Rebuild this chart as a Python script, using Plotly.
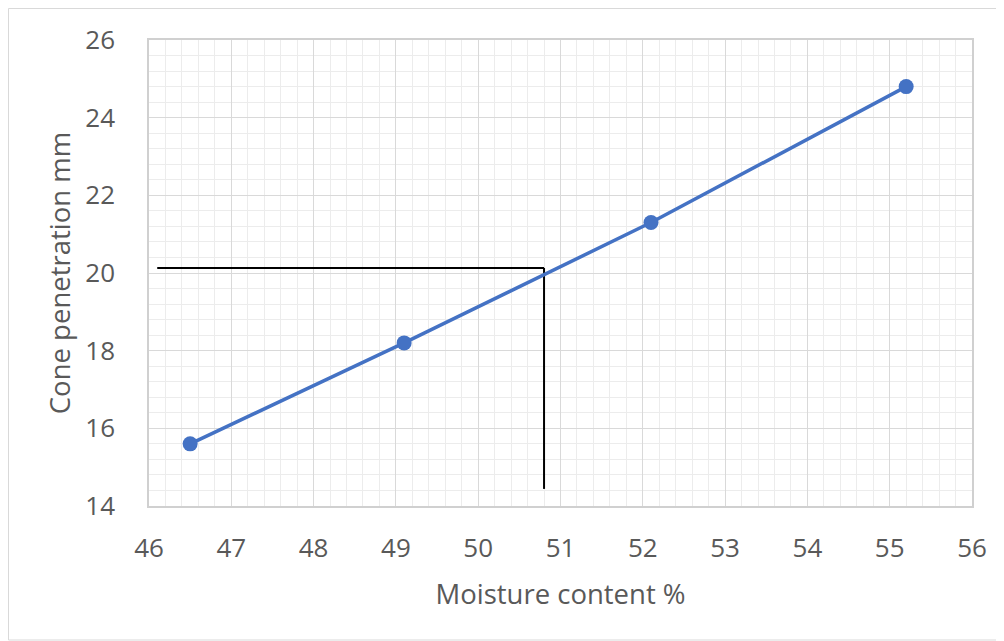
import plotly.graph_objects as go

moisture = [46.5, 49.1, 52.1, 55.2]
penetration = [15.6, 18.2, 21.3, 24.8]

# Reading lines for the liquid limit at 20 mm
ref_h_x = [46.1, 50.8]
ref_h_y = [20.13, 20.13]
ref_v_x = [50.8, 50.8]
ref_v_y = [20.13, 14.44]

x_ticks = list(range(46, 57))
y_ticks = list(range(14, 27, 2))

fig = go.Figure()
fig.add_trace(go.Scatter(x=ref_h_x, y=ref_h_y, mode="lines",
                         line=dict(color="black", width=2), showlegend=False, hoverinfo="skip"))
fig.add_trace(go.Scatter(x=ref_v_x, y=ref_v_y, mode="lines",
                         line=dict(color="black", width=2), showlegend=False, hoverinfo="skip"))
fig.add_trace(go.Scatter(x=moisture, y=penetration, mode="lines+markers",
                         line=dict(color="#4472C4", width=3.5),
                         marker=dict(color="#4472C4", size=15),
                         showlegend=False))

font_family = "Open Sans, Liberation Sans, sans-serif"
PW, PH = 823, 466  # plot area size in px
fig.update_layout(
    width=996, height=633,
    margin=dict(l=141, r=32, t=32, b=135),
    paper_bgcolor="white", plot_bgcolor="white",
    font=dict(family=font_family, color="#595959"),
    shapes=[dict(type="rect", xref="paper", yref="paper",
                 x0=(8.5 - 149) / PW, x1=(1001 - 149) / PW,
                 y0=(506 - 640) / PH, y1=(506 - 8.5) / PH,
                 line=dict(color="#d9d9d9", width=1), layer="below")],
)
fig.update_xaxes(
    range=[46, 56], tickvals=x_ticks, ticktext=[str(v) for v in x_ticks],
    tickfont=dict(size=26, color="#595959"),
    showgrid=True, gridcolor="#d9d9d9", gridwidth=1.3,
    minor=dict(dtick=0.2, showgrid=True, gridcolor="#ececec", gridwidth=1.3),
    showline=True, linecolor="#d0d0d0", linewidth=1.5, mirror=True,
    ticks="", ticklabelstandoff=18, zeroline=False,
    title=dict(text="Moisture content %", font=dict(size=27.5, color="#595959"), standoff=21),
)
fig.update_yaxes(
    range=[14, 26], tickvals=y_ticks, ticktext=[str(v) for v in y_ticks],
    tickfont=dict(size=26, color="#595959"),
    showgrid=True, gridcolor="#d9d9d9", gridwidth=1.3,
    minor=dict(dtick=0.4, showgrid=True, gridcolor="#ececec", gridwidth=1.3),
    showline=True, linecolor="#d0d0d0", linewidth=1.5, mirror=True,
    ticks="", ticklabelstandoff=27, zeroline=False,
    title=dict(text="Cone penetration mm", font=dict(size=27.5, color="#595959"), standoff=7),
)

fig.write_html("out.html")
